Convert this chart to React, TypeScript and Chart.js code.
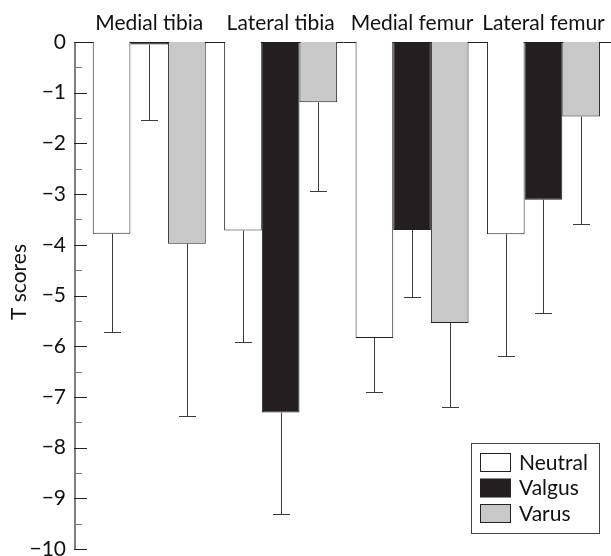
import React, { useEffect, useRef } from 'react';
import { Chart, registerables } from 'chart.js';

Chart.register(...registerables);

const categories = ['Medial tibia', 'Lateral tibia', 'Medial femur', 'Lateral femur'];
const seriesNames = ['Neutral', 'Valgus', 'Varus'];
const seriesFill = ['#ffffff', '#231f20', '#c8c8c8'];
const yTitle = 'T scores';

const neutral = [-3.78, -3.72, -5.84, -3.79];
const valgus = [-0.05, -7.31, -3.71, -3.11];
const varus = [-3.98, -1.19, -5.54, -1.47];

// lower end of each error bar (mean - SD)
const neutralErrEnd = [-5.72, -5.92, -6.9, -6.19];
const valgusErrEnd = [-1.54, -9.31, -5.03, -5.34];
const varusErrEnd = [-7.38, -2.94, -7.19, -3.58];

const yTickValues = [0, -1, -2, -3, -4, -5, -6, -7, -8, -9, -10];
const yTickLabels = ['0', '\u22121', '\u22122', '\u22123', '\u22124', '\u22125', '\u22126', '\u22127', '\u22128', '\u22129', '\u221210'];
const yMinorValues = [-0.5, -1.5, -2.5, -3.5, -4.5, -5.5, -6.5, -7.5, -8.5, -9.5];

const FONT = 'Lato';
const FS = 21;

const seriesValues = [neutral, valgus, varus];
const seriesErrEnds = [neutralErrEnd, valgusErrEnd, varusErrEnd];

const overlayPlugin = {
  id: 'overlay',
  afterDatasetsDraw(chart: any) {
    const ctx = chart.ctx;
    const ys = chart.scales.y;
    ctx.save();
    ctx.strokeStyle = '#3a3a3a';
    ctx.lineWidth = 1;
    seriesErrEnds.forEach((arr, di) => {
      const meta = chart.getDatasetMeta(di);
      meta.data.forEach((bar: any, i: number) => {
        const x = Math.round(bar.x) + 0.5;
        const y0 = bar.y;
        const y1 = Math.round(ys.getPixelForValue(arr[i])) + 0.5;
        ctx.beginPath();
        ctx.moveTo(x, y0);
        ctx.lineTo(x, y1);
        ctx.moveTo(x - 8.5, y1);
        ctx.lineTo(x + 8.5, y1);
        ctx.stroke();
      });
    });
    ctx.restore();
  },
  afterDraw(chart: any) {
    const ctx = chart.ctx;
    const ys = chart.scales.y;
    const area = chart.chartArea;
    const ax = area.left;
    ctx.save();
    // y axis line
    ctx.strokeStyle = '#808080';
    ctx.lineWidth = 2;
    ctx.beginPath();
    ctx.moveTo(ax, area.top);
    ctx.lineTo(ax, area.bottom);
    ctx.stroke();
    // major ticks
    ctx.strokeStyle = '#222';
    ctx.lineWidth = 1;
    yTickValues.forEach((v) => {
      const y = Math.round(ys.getPixelForValue(v)) + 0.5;
      ctx.beginPath();
      ctx.moveTo(ax - 1, y);
      ctx.lineTo(ax + 12, y);
      ctx.stroke();
    });
    ctx.strokeStyle = '#777';
    yMinorValues.forEach((v) => {
      const y = Math.round(ys.getPixelForValue(v)) + 0.5;
      ctx.beginPath();
      ctx.moveTo(ax, y);
      ctx.lineTo(ax + 7, y);
      ctx.stroke();
    });
    // y axis title
    ctx.save();
    ctx.translate(19, 282);
    ctx.rotate(-Math.PI / 2);
    ctx.font = `${FS}px ${FONT}`;
    ctx.fillStyle = '#111';
    ctx.textAlign = 'center';
    ctx.textBaseline = 'middle';
    ctx.fillText(yTitle, 0, 0);
    ctx.restore();
    // legend
    const lx = 471.5, ly = 443.5, lw = 128, lh = 90;
    ctx.fillStyle = '#ffffff';
    ctx.fillRect(lx, ly, lw, lh);
    ctx.strokeStyle = '#444';
    ctx.lineWidth = 1;
    ctx.strokeRect(lx, ly, lw, lh);
    ctx.font = `${FS}px ${FONT}`;
    ctx.textBaseline = 'middle';
    ctx.textAlign = 'left';
    chart.data.datasets.forEach((ds: any, i: number) => {
      const ry = 453.5 + i * 25.5;
      ctx.fillStyle = ds.backgroundColor;
      ctx.fillRect(480.5, ry, 30, 18);
      ctx.strokeStyle = '#222';
      ctx.strokeRect(480.5, ry, 30, 18);
      ctx.fillStyle = '#111';
      ctx.fillText(ds.label, 519, ry + 9.5);
    });
    ctx.restore();
  },
};

export default function App() {
  const ref = useRef<HTMLCanvasElement>(null);
  useEffect(() => {
    if (!ref.current) return;
    const datasets = seriesNames.map((name, di) => ({
      label: name,
      data: seriesValues[di].map((v, i) => ({ x: i, y: v })),
      backgroundColor: seriesFill[di],
      borderColor: '#231f20',
      borderWidth: 1,
      categoryPercentage: 0.86,
      barPercentage: 1,
    }));
    const chart = new Chart(ref.current, {
      type: 'bar',
      data: { datasets },
      plugins: [overlayPlugin],
      options: {
        animation: false,
        responsive: false,
        maintainAspectRatio: false,
        layout: { padding: { left: 0, right: 0, top: 0, bottom: 7 } },
        plugins: { legend: { display: false }, tooltip: { enabled: false } },
        scales: {
          x: {
            type: 'linear',
            position: 'top',
            offset: false,
            min: -0.565,
            max: 3.514,
            grid: { display: false, drawTicks: false },
            border: { display: true, color: '#222', width: 1 },
            afterBuildTicks: (s: any) => {
              s.ticks = categories.map((_, i) => ({ value: i }));
            },
            ticks: {
              autoSkip: false,
              maxRotation: 0,
              padding: 6,
              color: '#111',
              font: { family: FONT, size: FS },
              callback: (v: any) =>
                Number.isInteger(v) && v >= 0 && v < categories.length ? categories[v] : '',
            },
            afterFit: (s: any) => {
              s.height = 42;
              s.paddingLeft = 0;
              s.paddingRight = 0;
            },
          },
          y: {
            type: 'linear',
            min: -10,
            max: 0,
            position: 'left',
            grid: { display: false, drawTicks: false },
            border: { display: false },
            ticks: {
              stepSize: 1,
              padding: 9,
              color: '#111',
              font: { family: FONT, size: FS },
              callback: (v: any) => {
                const idx = yTickValues.indexOf(v);
                return idx >= 0 ? yTickLabels[idx] : '';
              },
            },
            title: { display: false },
            afterFit: (s: any) => {
              s.width = 75;
              s.paddingTop = 0;
              s.paddingBottom = 0;
            },
          },
        },
      } as any,
    });
    return () => chart.destroy();
  }, []);
  return (
    <div style={{ position: 'fixed', left: 0, top: 0, width: 611, height: 556, background: '#fff' }}>
      <canvas ref={ref} width={611} height={556} style={{ display: 'block', width: 611, height: 556 }} />
    </div>
  );
}
